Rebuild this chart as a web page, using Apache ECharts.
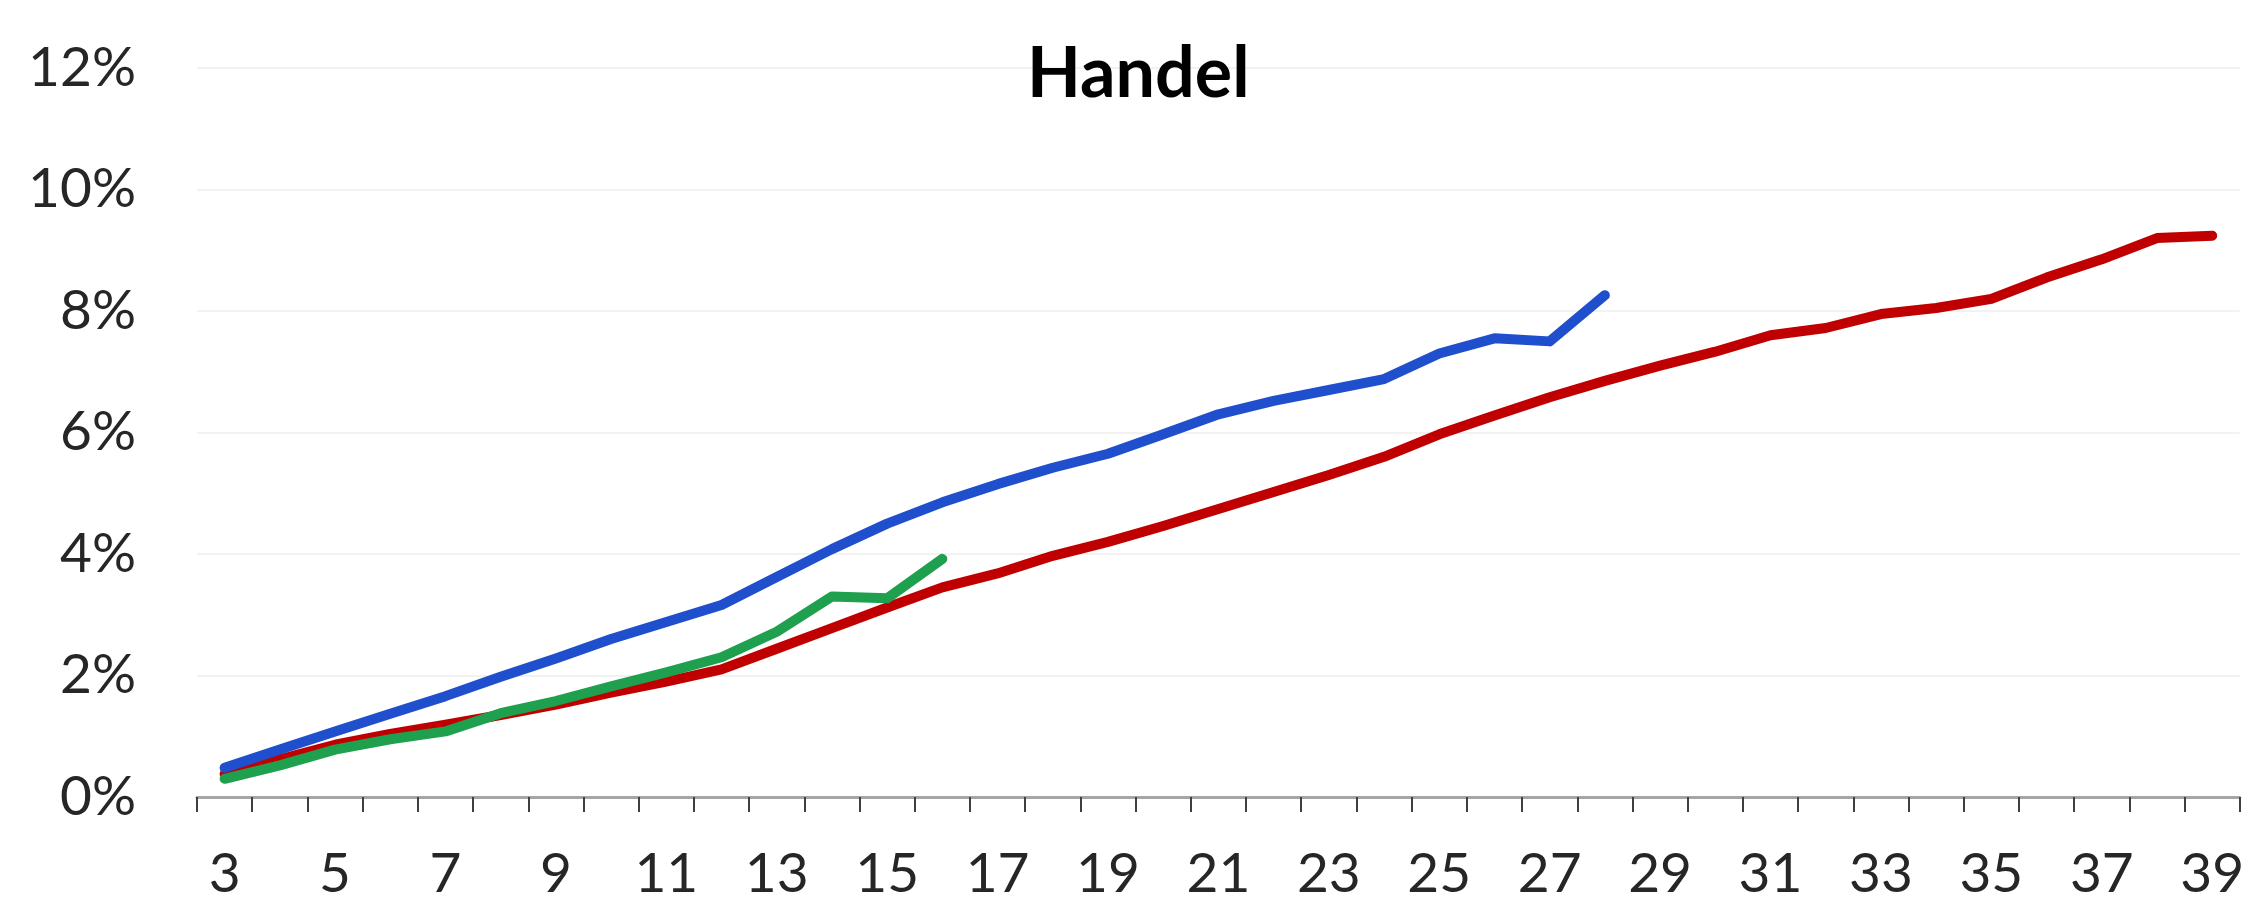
<!DOCTYPE html>
<html>
<head>
<meta charset="utf-8">
<script src="https://cdn.jsdelivr.net/npm/echarts@6/dist/echarts.min.js"></script>
<style>
  html, body { margin: 0; padding: 0; background: #fff; }
  #chart { width: 2247px; height: 902px; }
</style>
</head>
<body>
<div id="chart"></div>
<script>
// week numbers on the x axis
const weeks = ['3','4','5','6','7','8','9','10','11','12','13','14','15','16','17','18','19','20','21',
  '22','23','24','25','26','27','28','29','30','31','32','33','34','35','36','37','38','39'];

// cumulative share in %
const redLine = [0.38, 0.62, 0.86, 1.04, 1.19, 1.35, 1.52, 1.72, 1.9, 2.1, 2.44, 2.78, 3.12, 3.45,
  3.68, 3.97, 4.2, 4.46, 4.74, 5.02, 5.3, 5.6, 5.97, 6.28, 6.58, 6.85, 7.1, 7.33, 7.6, 7.72,
  7.95, 8.05, 8.2, 8.55, 8.85, 9.2, 9.24];
const blueLine = [0.48, 0.78, 1.08, 1.37, 1.66, 1.98, 2.28, 2.6, 2.88, 3.16, 3.62, 4.08, 4.5,
  4.85, 5.15, 5.42, 5.65, 5.97, 6.3, 6.52, 6.7, 6.88, 7.3, 7.55, 7.5, 8.26];
const greenLine = [0.3, 0.52, 0.78, 0.95, 1.08, 1.38, 1.58, 1.82, 2.05, 2.3, 2.72, 3.3, 3.27, 3.92];

const yMin = 0;
const yMax = 12;
const yStep = 2;

const chartDom = document.getElementById('chart');
const myChart = echarts.init(chartDom);

const lineSeries = (name, data, color, z) => ({
  name: name,
  type: 'line',
  data: data,
  z: z,
  showSymbol: false,
  symbol: 'none',
  connectNulls: false,
  lineStyle: { color: color, width: 10, cap: 'round', join: 'round' },
});

const option = {
  animation: false,
  backgroundColor: '#ffffff',
  title: {
    text: 'Handel',
    left: 1022,
    top: 34,
    textStyle: {
      fontFamily: 'Lato',
      fontWeight: 'bold',
      fontSize: 70,
      color: '#000000',
    },
  },
  grid: {
    left: 197,
    right: 0,
    top: 68,
    bottom: 86,
  },
  xAxis: {
    type: 'category',
    data: weeks,
    boundaryGap: true,
    axisLine: { lineStyle: { color: '#a6a6a6', width: 3 } },
    axisTick: { show: true, interval: 0, length: 15, lineStyle: { color: '#404040', width: 2 } },
    axisLabel: {
      interval: 1,
      margin: 50,
      fontFamily: 'Lato',
      fontSize: 55,
      color: '#262626',
    },
    splitLine: { show: false },
  },
  yAxis: {
    type: 'value',
    min: yMin,
    max: yMax,
    interval: yStep,
    axisLine: { show: false },
    axisTick: { show: false },
    axisLabel: {
      margin: 61,
      fontFamily: 'Lato',
      fontSize: 55,
      color: '#262626',
      formatter: '{value}%',
    },
    splitLine: { lineStyle: { color: '#f2f2f2', width: 2 } },
  },
  series: [
    lineSeries('rood', redLine, '#c00000', 2),
    lineSeries('groen', greenLine, '#1ea04e', 3),
    lineSeries('blauw', blueLine, '#1f4fcc', 4),
  ],
};

myChart.setOption(option);
</script>
</body>
</html>
